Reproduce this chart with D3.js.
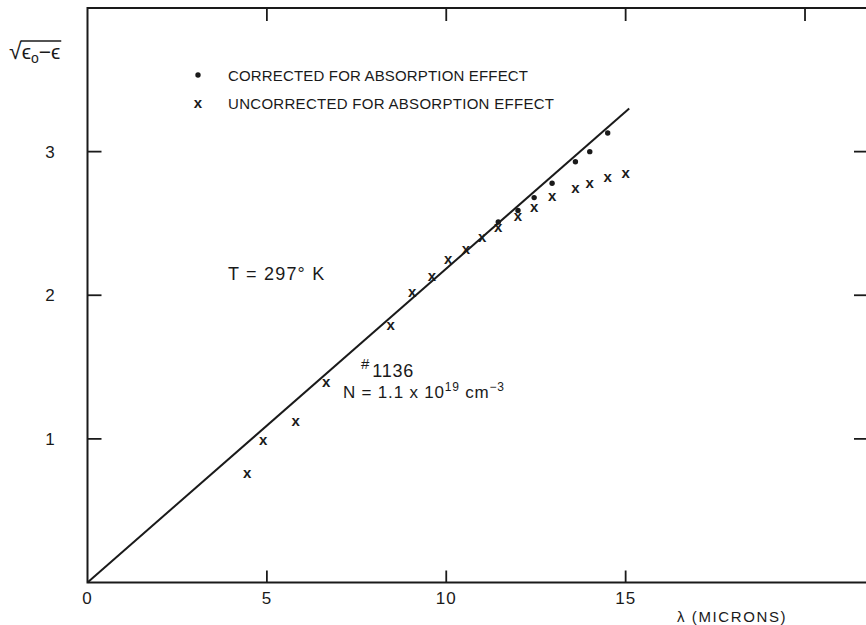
<!DOCTYPE html>
<html>
<head>
<meta charset="utf-8">
<script src="https://cdn.jsdelivr.net/npm/d3@7"></script>
<style>
  body { margin: 0; background: #fff; }
  svg { display: block; font-family: "Liberation Sans", Arial, sans-serif; }
  text { fill: #1a1a1a; }
</style>
</head>
<body>
<svg id="chart"></svg>
<script>
// values
const uncorrLambda = [4.45, 4.9, 5.8, 6.65, 8.45, 9.05, 9.6, 10.05, 10.55, 11.0, 11.45, 12.0, 12.45, 12.95, 13.6, 14.0, 14.5, 15.0];
const uncorrValue  = [0.76, 0.99, 1.12, 1.39, 1.79, 2.02, 2.13, 2.25, 2.32, 2.40, 2.47, 2.55, 2.61, 2.69, 2.74, 2.78, 2.82, 2.85];
const corrLambda = [11.45, 12.0, 12.45, 12.95, 13.6, 14.0, 14.5];
const corrValue  = [2.51, 2.59, 2.68, 2.78, 2.93, 3.0, 3.13];
const fitLambda = [0, 15.1];
const fitValue  = [0, 3.3];
const xTicks = [0, 5, 10, 15];
const xTopTicks = [5, 10, 15, 20];
const yTicks = [1, 2, 3];

const width = 866, height = 625;
const ink = "#1a1a1a";

const svg = d3.select("#chart").attr("width", width).attr("height", height);

const x = d3.scaleLinear().domain([0, 21.7]).range([87.5, 866]);
const y = d3.scaleLinear().domain([0, 4]).range([582.5, 8]);

// frame
svg.append("path")
    .attr("d", `M${x(21.7)},${y(4)} H${x(0)} V${y(0)} H${x(21.7)}`)
    .attr("fill", "none").attr("stroke", ink).attr("stroke-width", 2);

// inward ticks on all four sides
svg.selectAll(".tb").data(xTicks.filter(d => d > 0)).enter().append("line")
    .attr("x1", d => x(d)).attr("x2", d => x(d))
    .attr("y1", y(0)).attr("y2", y(0) - 12)
    .attr("stroke", ink).attr("stroke-width", 1.8);
svg.selectAll(".tt").data(xTopTicks).enter().append("line")
    .attr("x1", d => x(d)).attr("x2", d => x(d))
    .attr("y1", y(4)).attr("y2", y(4) + 13)
    .attr("stroke", ink).attr("stroke-width", 1.8);
svg.selectAll(".tl").data(yTicks).enter().append("line")
    .attr("x1", x(0)).attr("x2", x(0) + 14)
    .attr("y1", d => y(d)).attr("y2", d => y(d))
    .attr("stroke", ink).attr("stroke-width", 1.8);
svg.selectAll(".tr").data(yTicks).enter().append("line")
    .attr("x1", width).attr("x2", width - 12)
    .attr("y1", d => y(d)).attr("y2", d => y(d))
    .attr("stroke", ink).attr("stroke-width", 1.8);

// tick labels
svg.selectAll(".xl").data(xTicks).enter().append("text")
    .attr("x", d => x(d)).attr("y", 604)
    .attr("text-anchor", "middle").attr("font-size", 17).attr("letter-spacing", 1)
    .text(d => d);
svg.selectAll(".yl").data(yTicks).enter().append("text")
    .attr("x", 50).attr("y", d => y(d) + 6)
    .attr("text-anchor", "middle").attr("font-size", 17)
    .text(d => d);

// axis titles
svg.append("text")
    .attr("x", 677).attr("y", 622)
    .attr("font-size", 15).attr("letter-spacing", 1.6)
    .text("λ (MICRONS)");

const yl = svg.append("text").attr("x", 9).attr("y", 59).attr("font-size", 23);
const root = yl.append("tspan").text("√");
yl.append("tspan").attr("font-size", 21).text("ϵ");
yl.append("tspan").attr("font-size", 14).attr("dy", 4).text("o");
yl.append("tspan").attr("font-size", 21).attr("dy", -4).text("−ϵ");
const lb = yl.node().getBBox();
const rw = root.node().getComputedTextLength();
svg.append("line")
    .attr("x1", lb.x + rw - 1).attr("x2", lb.x + lb.width + 1)
    .attr("y1", lb.y + 3).attr("y2", lb.y + 3)
    .attr("stroke", ink).attr("stroke-width", 1.5);

// fit line
svg.append("line")
    .attr("x1", x(fitLambda[0])).attr("y1", y(fitValue[0]))
    .attr("x2", x(fitLambda[1])).attr("y2", y(fitValue[1]))
    .attr("stroke", ink).attr("stroke-width", 2);

// uncorrected points: x marks
svg.selectAll(".ux").data(uncorrLambda).enter().append("text")
    .attr("x", d => x(d)).attr("y", (d, i) => y(uncorrValue[i]) + 4.5)
    .attr("text-anchor", "middle").attr("font-size", 15).attr("font-weight", "bold")
    .text("x");

// corrected points: dots
svg.selectAll(".cd").data(corrLambda).enter().append("circle")
    .attr("cx", d => x(d)).attr("cy", (d, i) => y(corrValue[i]))
    .attr("r", 2.7).attr("fill", ink);

// legend
svg.append("circle").attr("cx", 198).attr("cy", 75).attr("r", 2.7).attr("fill", ink);
svg.append("text").attr("x", 198).attr("y", 108)
    .attr("text-anchor", "middle").attr("font-size", 15).attr("font-weight", "bold").text("x");
svg.append("text").attr("x", 228).attr("y", 81)
    .attr("font-size", 15).attr("textLength", 300)
    .text("CORRECTED FOR ABSORPTION EFFECT");
svg.append("text").attr("x", 228).attr("y", 109)
    .attr("font-size", 15).attr("textLength", 326)
    .text("UNCORRECTED FOR ABSORPTION EFFECT");

// annotations
svg.append("text").attr("x", 228).attr("y", 280)
    .attr("font-size", 18).attr("letter-spacing", 1.2).text("T = 297° K");

const s = svg.append("text").attr("x", 361).attr("y", 377).attr("font-size", 18).attr("letter-spacing", 0.8);
s.append("tspan").attr("font-size", 15).attr("dy", -8).text("#");
s.append("tspan").attr("dy", 8).attr("dx", 2).text("1136");

const n = svg.append("text").attr("x", 343).attr("y", 398).attr("font-size", 17).attr("letter-spacing", 0.8);
n.append("tspan").text("N = 1.1 x 10");
n.append("tspan").attr("font-size", 12).attr("dy", -7).text("19");
n.append("tspan").attr("dy", 7).text(" cm");
n.append("tspan").attr("font-size", 12).attr("dy", -7).text("−3");
</script>
</body>
</html>
